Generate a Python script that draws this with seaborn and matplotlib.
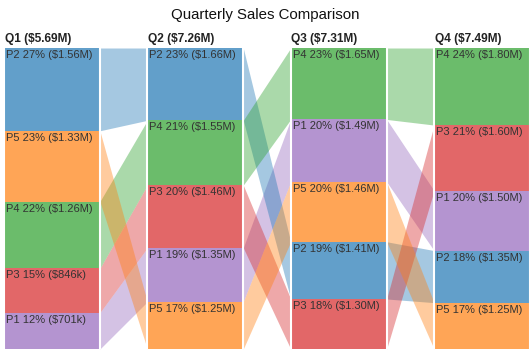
import matplotlib
matplotlib.use("Agg")
import matplotlib.pyplot as plt
import seaborn as sns

quarters = ["Q1", "Q2", "Q3", "Q4"]
products = ["P1", "P2", "P3", "P4", "P5"]

# sales in $M per product, Q1..Q4 (used for labels)
p1 = [0.701, 1.350, 1.490, 1.498]
p2 = [1.556, 1.656, 1.410, 1.350]
p3 = [0.846, 1.457, 1.300, 1.596]
p4 = [1.260, 1.548, 1.650, 1.797]
p5 = [1.330, 1.249, 1.460, 1.249]
sales = {"P1": p1, "P2": p2, "P3": p3, "P4": p4, "P5": p5}

# drawn segment heights (% of column)
h_p1 = [12.1, 17.9, 20.7, 19.9]
h_p2 = [27.5, 24.0, 19.0, 17.3]
h_p3 = [14.7, 20.8, 16.6, 21.8]
h_p4 = [22.2, 21.5, 23.7, 25.6]
h_p5 = [23.5, 15.7, 19.9, 15.4]
heights = {"P1": h_p1, "P2": h_p2, "P3": h_p3, "P4": h_p4, "P5": h_p5}

# colour order follows the Q1 ranking
color_order = ["P2", "P5", "P4", "P3", "P1"]

sns.set_theme(style="white")
plt.rcParams["font.family"] = ["Liberation Sans", "DejaVu Sans"]
pal = sns.color_palette("tab10")
colors = {p: pal[i] for i, p in enumerate(color_order)}


def fmt(v):
    if v >= 1:
        return f"${v:.2f}M"
    return f"${v * 1000:.0f}k"


fig = plt.figure(figsize=(5.31, 3.55), dpi=100)
ax = fig.add_axes([4 / 531, 6 / 355, 526 / 531, 301 / 355])

width = 1.0
step = 1.495
spans = []  # per quarter: {product: (top, bottom)}

for qi, q in enumerate(quarters):
    total = sum(sales[p][qi] for p in products)
    col_h = sum(heights[p][qi] for p in products)
    ranked = sorted(products, key=lambda p: -sales[p][qi])
    x0 = qi * step
    top = 0.0
    span = {}
    for p in ranked:
        v = sales[p][qi]
        h = heights[p][qi] / col_h * 100
        ax.bar(x0, h, width=width, bottom=top, align="edge",
               color=colors[p], alpha=0.7, linewidth=0, zorder=2)
        ax.annotate(f"{p} {v / total * 100:.0f}% ({fmt(v)})", xy=(x0, top),
                    xytext=(1.5, -1.5), textcoords="offset points",
                    ha="left", va="top", fontsize=8, color="#333333", zorder=4)
        span[p] = (top, top + h)
        top += h
    spans.append(span)
    ax.annotate(f"{q} ({fmt(total)})", xy=(x0, 1.0),
                xycoords=("data", "axes fraction"),
                xytext=(0.5, 2.5), textcoords="offset points",
                ha="left", va="bottom", fontsize=8.6, fontweight="bold",
                color="#222222")
    for xe in (x0, x0 + width):
        ax.plot([xe, xe], [0, 100], color="white", lw=1.5, zorder=3)

# ribbons between neighbouring quarters
for qi in range(len(quarters) - 1):
    xa = qi * step + width
    xb = (qi + 1) * step
    for p in products:
        ta, ba = spans[qi][p]
        tb, bb = spans[qi + 1][p]
        ax.fill_between([xa, xb], [ta, tb], [ba, bb],
                        color=colors[p], alpha=0.4, linewidth=0, zorder=1)

ax.set_xlim(0, 3 * step + width)
ax.set_ylim(100, 0)
ax.axis("off")

fig.text(0.5, 1 - 15 / 355, "Quarterly Sales Comparison", ha="center",
         va="center", fontsize=10.8, color="#111111")

fig.savefig("out.png", dpi=100)
